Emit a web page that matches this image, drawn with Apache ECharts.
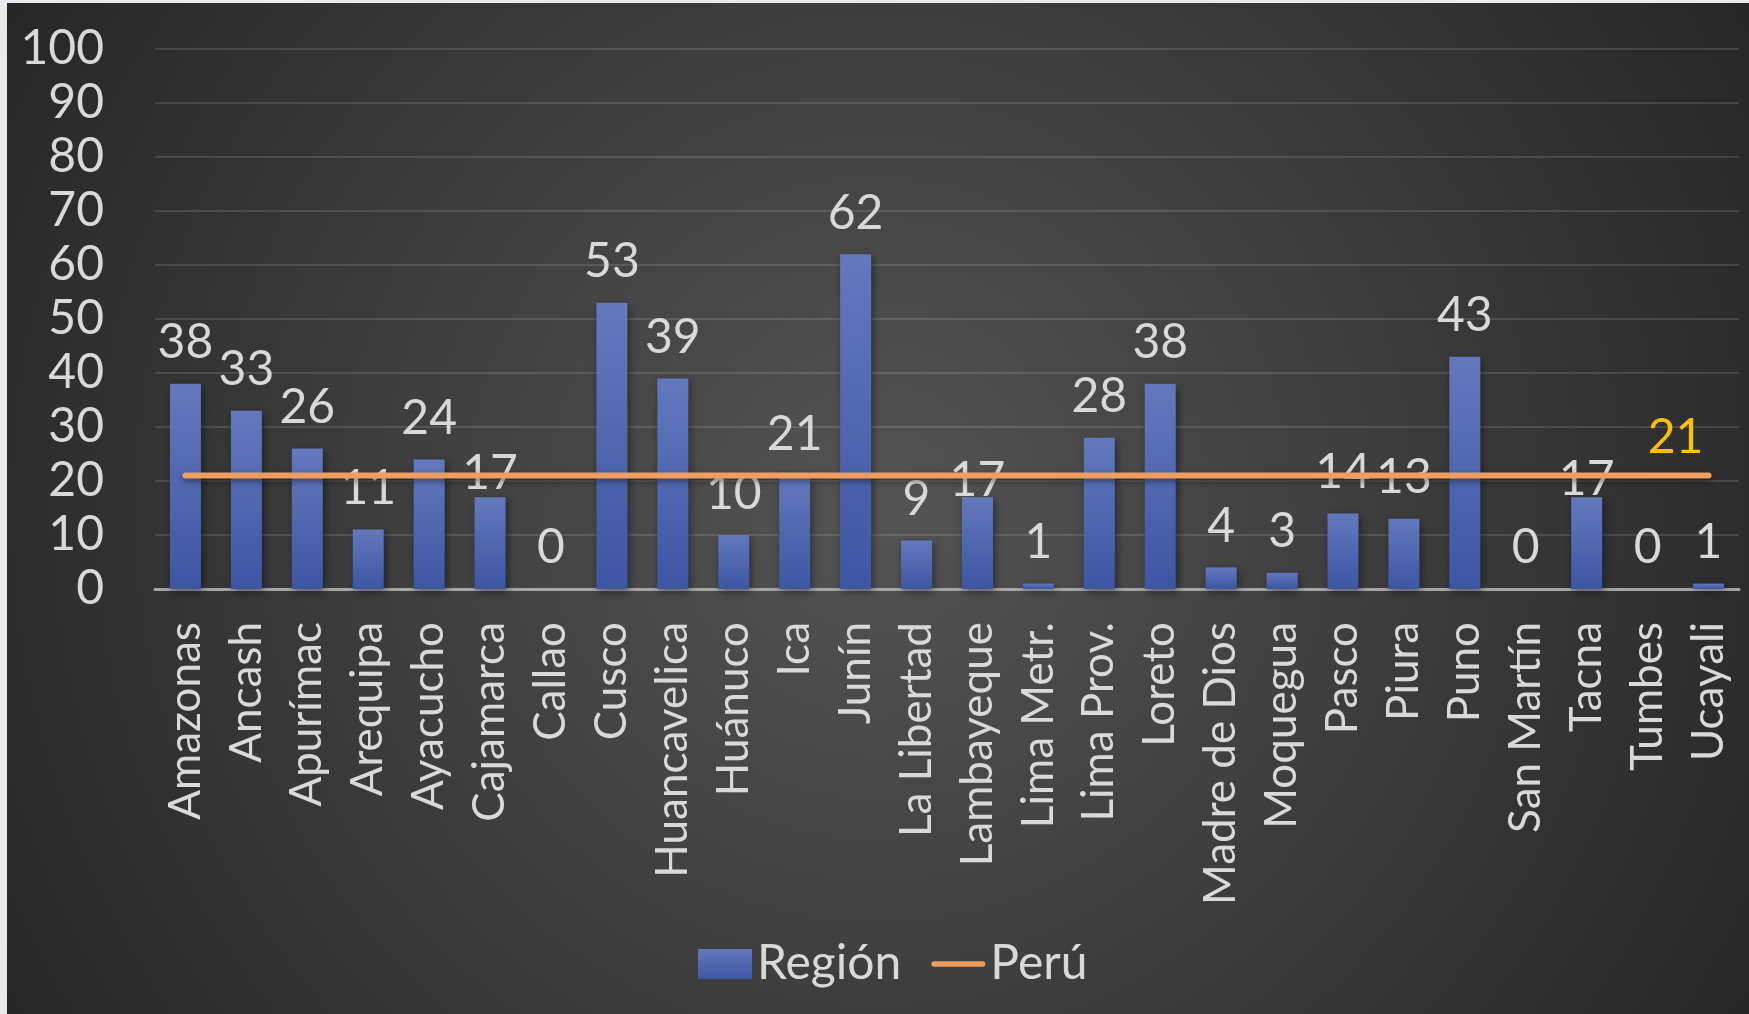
<!DOCTYPE html>
<html>
<head>
<meta charset="utf-8">
<script src="https://cdn.jsdelivr.net/npm/echarts@6/dist/echarts.min.js"></script>
<style>
  html, body { margin: 0; padding: 0; width: 1749px; height: 1014px; background: #e9eaed; overflow: hidden; }
  #chart { position: absolute; left: 7px; top: 3px; width: 1742px; height: 1011px; }
</style>
</head>
<body>
<div id="chart"></div>
<script>
const categories = ['Amazonas','Ancash','Apurímac','Arequipa','Ayacucho','Cajamarca','Callao','Cusco','Huancavelica','Huánuco','Ica','Junín','La Libertad','Lambayeque','Lima Metr.','Lima Prov.','Loreto','Madre de Dios','Moquegua','Pasco','Piura','Puno','San Martín','Tacna','Tumbes','Ucayali'];
const regionValues = [38,33,26,11,24,17,0,53,39,10,21,62,9,17,1,28,38,4,3,14,13,43,0,17,0,1];
const peruValues = [21,21,21,21,21,21,21,21,21,21,21,21,21,21,21,21,21,21,21,21,21,21,21,21,21,21];
const yTicks = [0,10,20,30,40,50,60,70,80,90,100];

const FONT = 'Lato';
const TXT = '#d9d9d9';
// styling only: a few data labels sit closer to their bars in the original
const LABEL_DIST = 17;
const labelDistOverride = { 5: 0, 13: -7, 23: -6 };

const chart = echarts.init(document.getElementById('chart'));

const barData = regionValues.map((v, i) => (i in labelDistOverride) ? {
  value: v, label: { distance: labelDistOverride[i] }
} : v);

const peruData = peruValues.map((v, i) => i === peruValues.length - 1 ? {
  value: v,
  label: { show: true, position: 'top', distance: 14, offset: [-33, 0], color: '#ffc000', fontSize: 48, fontFamily: FONT,
    formatter: (p) => String(p.value) }
} : v);

chart.setOption({
  backgroundColor: {
    type: 'radial', x: 0.5, y: 0.5, r: 1,
    colorStops: [{ offset: 0, color: '#545454' }, { offset: 1, color: '#262626' }]
  },
  animation: false,
  textStyle: { fontFamily: FONT },
  grid: { left: 148, right: 10, top: 46, bottom: 425, containLabel: false, outerBoundsMode: 'none' },
  legend: {
    left: 686, top: 932,
    itemWidth: 54, itemHeight: 30, itemGap: 30,
    textStyle: { color: TXT, fontSize: 48, fontFamily: FONT },
    data: [
      { name: 'Región', icon: 'rect' },
      { name: 'Perú', icon: 'path://M0,0 M58,30 M3,12 L55,12 A3,3 0 0 1 55,18 L3,18 A3,3 0 0 1 3,12 Z',
        itemStyle: { color: '#ed9f63' } }
    ]
  },
  xAxis: {
    type: 'category',
    data: categories,
    axisLine: { lineStyle: { color: '#a6a6a6', width: 3 } },
    axisTick: { show: false },
    axisLabel: { rotate: 90, margin: 33, color: TXT, fontSize: 44, fontFamily: FONT, interval: 0 }
  },
  yAxis: {
    type: 'value',
    min: yTicks[0], max: yTicks[yTicks.length - 1], interval: 10,
    axisLine: { show: false },
    axisTick: { show: false },
    axisLabel: { color: TXT, fontSize: 48, fontFamily: FONT, margin: 51 },
    splitLine: { lineStyle: { color: 'rgba(255,255,255,0.12)', width: 2 } }
  },
  series: [
    {
      name: 'Región',
      type: 'bar',
      data: barData,
      barWidth: 31,
      z: 2,
      itemStyle: {
        color: {
          type: 'linear', x: 0, y: 0, x2: 0, y2: 1,
          colorStops: [{ offset: 0, color: '#6378bd' }, { offset: 1, color: '#3d56a4' }]
        },
        shadowColor: 'rgba(0,0,0,0.45)', shadowBlur: 8, shadowOffsetX: 2, shadowOffsetY: 3
      },
      label: { show: true, position: 'top', distance: LABEL_DIST, color: TXT, fontSize: 48, fontFamily: FONT }
    },
    {
      name: 'Perú',
      type: 'line',
      data: peruData,
      symbol: 'circle',
      symbolSize: 0,
      showSymbol: true,
      lineStyle: { color: '#ed9f63', width: 6, cap: 'round',
        shadowColor: 'rgba(0,0,0,0.45)', shadowBlur: 6, shadowOffsetY: 3 },
      itemStyle: { color: '#ed9f63' },
      z: 6
    }
  ]
});
</script>
</body>
</html>
